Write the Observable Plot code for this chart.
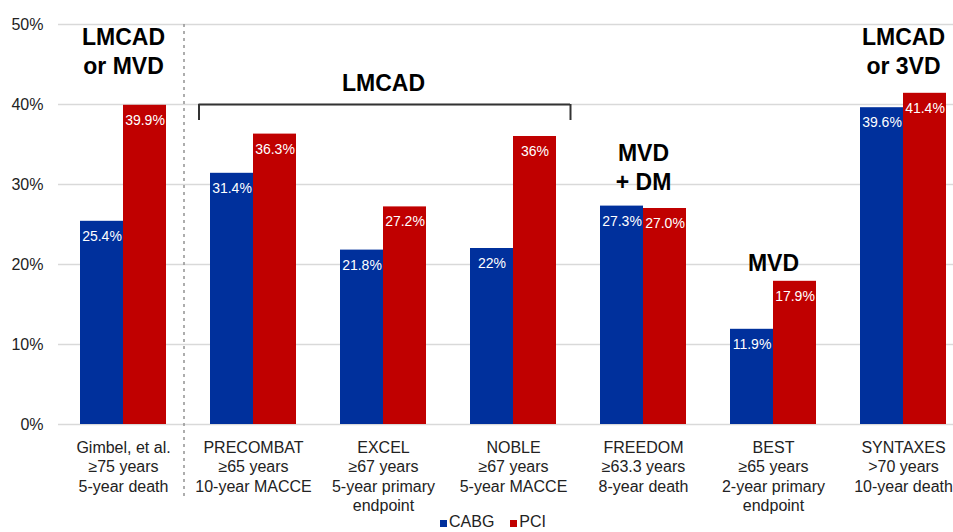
<!DOCTYPE html>
<html>
<head>
<meta charset="utf-8">
<script src="https://cdn.jsdelivr.net/npm/d3@7"></script>
<script src="https://cdn.jsdelivr.net/npm/@observablehq/plot@0.6"></script>
<style>
  html, body { margin: 0; padding: 0; background: white; overflow: hidden; }
  body { width: 953px; height: 532px; position: relative; font-family: "Liberation Sans", Arial, sans-serif; }
  #legend { position: absolute; left: 440px; top: 512px; font-size: 16px; line-height: 20px; color: #222; white-space: nowrap; }
  #legend .sw { display: inline-block; width: 7px; height: 7px; margin-right: 2px; }
  #legend .item { margin-right: 16px; }
</style>
</head>
<body>
<div id="chart"></div>
<div id="legend"></div>
<script>
// ---- data ----
const groups = ["Gimbel", "PRECOMBAT", "EXCEL", "NOBLE", "FREEDOM", "BEST", "SYNTAXES"];
const groupLabels = [
  "Gimbel, et al.\n≥75 years\n5-year death",
  "PRECOMBAT\n≥65 years\n10-year MACCE",
  "EXCEL\n≥67 years\n5-year primary\nendpoint",
  "NOBLE\n≥67 years\n5-year MACCE",
  "FREEDOM\n≥63.3 years\n8-year death",
  "BEST\n≥65 years\n2-year primary\nendpoint",
  "SYNTAXES\n>70 years\n10-year death"
];
const cabgValues = [25.4, 31.4, 21.8, 22.0, 27.3, 11.9, 39.6];
const pciValues  = [39.9, 36.3, 27.2, 36.0, 27.0, 17.9, 41.4];
const cabgLabels = ["25.4%", "31.4%", "21.8%", "22%", "27.3%", "11.9%", "39.6%"];
const pciLabels  = ["39.9%", "36.3%", "27.2%", "36%", "27.0%", "17.9%", "41.4%"];
const yTicks = [0, 10, 20, 30, 40, 50];
const seriesNames = ["CABG", "PCI"];
const seriesColors = ["#00309c", "#c00000"];

// annotations (group, y in %)
const annGroups = ["Gimbel", "EXCEL", "FREEDOM", "BEST", "SYNTAXES"];
const annTexts  = ["LMCAD\nor MVD", "LMCAD", "MVD\n+ DM", "MVD", "LMCAD\nor 3VD"];
const annY      = [46.75, 42.75, 32.25, 20.25, 46.75];
const bracketFrom = "PRECOMBAT", bracketTo = "NOBLE", bracketY = 40, bracketDrop = 38;
const separatorAfter = "Gimbel", separatorTop = 50, separatorBottom = -9.2;

// ---- tables ----
const cabg = groups.map((g, i) => ({group: g, value: cabgValues[i], label: cabgLabels[i]}));
const pci  = groups.map((g, i) => ({group: g, value: pciValues[i], label: pciLabels[i]}));
const anns = annGroups.map((g, i) => ({group: g, text: annTexts[i], y: annY[i]}));
const labelOf = new Map(groups.map((g, i) => [g, groupLabels[i]]));

const half = 43;
const chart = Plot.plot({
  width: 953,
  height: 512,
  marginLeft: 58,
  marginRight: 0,
  marginTop: 24,
  marginBottom: 88,
  style: {fontFamily: "Liberation Sans, Arial, sans-serif", fontSize: "16px", color: "#222", background: "white", overflow: "visible"},
  x: {domain: groups, range: [58, 968], paddingInner: 0.338, paddingOuter: 0.169, label: null},
  y: {domain: [0, 50], label: null},
  marks: [
    Plot.ruleY(yTicks, {stroke: "#d9d9d9", strokeWidth: 1.3}),
    Plot.barY(cabg, {x: "group", y: "value", fill: seriesColors[0], insetRight: half}),
    Plot.barY(pci, {x: "group", y: "value", fill: seriesColors[1], insetLeft: half}),
    Plot.text(cabg, {x: "group", y: "value", text: "label", dx: -21.5, dy: 15, fill: "white", fontSize: 14}),
    Plot.text(pci, {x: "group", y: "value", text: "label", dx: 21.5, dy: 15, fill: "white", fontSize: 14}),
    // separator
    Plot.ruleX([separatorAfter], {x: d => d, y1: separatorTop, y2: separatorBottom, dx: 60.5, stroke: "#999", strokeWidth: 1.6, strokeDasharray: "3,4"}),
    // bracket
    Plot.ruleY([bracketY], {x1: () => bracketFrom, x2: () => bracketTo, y: d => d, insetLeft: -11.5, insetRight: -14, stroke: "#333", strokeWidth: 2}),
    Plot.ruleX([bracketFrom], {x: d => d, y1: bracketDrop, y2: bracketY, dx: -54.5, stroke: "#333", strokeWidth: 2}),
    Plot.ruleX([bracketTo], {x: d => d, y1: bracketDrop, y2: bracketY, dx: 57, stroke: "#333", strokeWidth: 2}),
    // annotations
    Plot.text(anns, {x: "group", y: "y", text: "text", fontSize: 23, fontWeight: "bold", fill: "#000", lineHeight: 1.22}),
    Plot.axisY(yTicks, {tickSize: 0, tickPadding: 15, tickFormat: d => d + "%", fontSize: 16, fill: "#222"}),
    Plot.axisX({tickSize: 0, tickPadding: 15, tickFormat: g => labelOf.get(g), fontSize: 16, lineHeight: 1.2, fill: "#222"})
  ]
});
document.getElementById("chart").appendChild(chart);

const legend = document.getElementById("legend");
seriesNames.forEach((name, i) => {
  const item = document.createElement("span");
  item.className = "item";
  const sw = document.createElement("span");
  sw.className = "sw";
  sw.style.background = seriesColors[i];
  item.appendChild(sw);
  item.appendChild(document.createTextNode(name));
  legend.appendChild(item);
});
</script>
</body>
</html>
